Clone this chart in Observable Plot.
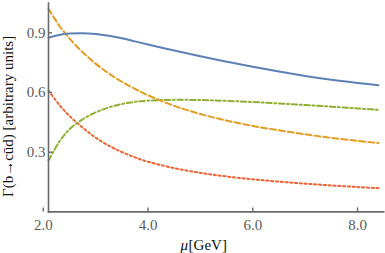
<!DOCTYPE html>
<html>
<head>
<meta charset="utf-8">
<script src="https://cdn.jsdelivr.net/npm/d3@7"></script>
<script src="https://cdn.jsdelivr.net/npm/@observablehq/plot@0.6"></script>
<style>
  html, body { margin: 0; padding: 0; background: #fff; }
</style>
</head>
<body>
<div id="chart"></div>
<script>
const mu     = [2.1, 2.3, 2.5, 2.75, 3.0, 3.25, 3.5, 3.75, 4.0, 4.5, 5.0, 5.5, 6.0, 6.5, 7.0, 7.5, 8.0, 8.4];
const blue   = [0.875, 0.889, 0.896, 0.898, 0.894, 0.885, 0.873, 0.857, 0.841, 0.811, 0.782, 0.755, 0.729, 0.705, 0.683, 0.664, 0.648, 0.637];
const orange = [1.021, 0.938, 0.872, 0.803, 0.745, 0.696, 0.654, 0.618, 0.586, 0.533, 0.492, 0.459, 0.432, 0.410, 0.390, 0.372, 0.357, 0.346];
const green  = [0.258, 0.350, 0.415, 0.465, 0.500, 0.525, 0.542, 0.553, 0.559, 0.563, 0.562, 0.558, 0.552, 0.545, 0.537, 0.529, 0.520, 0.513];
const red    = [0.610, 0.540, 0.482, 0.424, 0.373, 0.333, 0.301, 0.274, 0.252, 0.220, 0.196, 0.178, 0.164, 0.152, 0.142, 0.133, 0.125, 0.119];
const xTicks = [2.0, 4.0, 6.0, 8.0];
const yTicks = [0.3, 0.6, 0.9];
const xDomain = [2.1, 8.5];
const yDomain = [0, 1.05];
const yTitle = "Γ(b→cūd) [arbitrary units]";
const xTitleSymbol = "μ";
const xTitleUnit = "[GeV]";

const rows = (vals) => mu.map((m, i) => ({mu: m, v: vals[i]}));

const axisColor = "#6a6a6a";
const labelColor = "#5c5c5c";
const font = "'Liberation Serif', 'Times New Roman', serif";

const lineOpts = {x: "mu", y: "v", strokeWidth: 2, curve: "catmull-rom"};

const chart = Plot.plot({
  width: 385,
  height: 253,
  marginLeft: 48,
  marginRight: 1.8,
  marginTop: 2.45,
  marginBottom: 41.6,
  style: {fontFamily: font, fontSize: "15px", background: "#fff", overflow: "visible"},
  x: {domain: xDomain},
  y: {domain: yDomain},
  marks: [
    Plot.line(rows(red),    {...lineOpts, stroke: "#EB6235", strokeDasharray: "2.2,2.6"}),
    Plot.line(rows(green),  {...lineOpts, stroke: "#8FB032", strokeDasharray: "5.5,2.6,2,2.6"}),
    Plot.line(rows(orange), {...lineOpts, stroke: "#E19C24", strokeDasharray: "6,3"}),
    Plot.line(rows(blue),   {...lineOpts, stroke: "#5E81B5"}),
    Plot.frame({anchor: "left", stroke: axisColor, strokeWidth: 1.6}),
    Plot.frame({anchor: "bottom", stroke: axisColor, strokeWidth: 1.6}),
    Plot.axisY(yTicks, {anchor: "left", tickSize: -4, fill: "none", stroke: axisColor, strokeWidth: 1.4, label: null}),
    Plot.axisY(yTicks, {anchor: "left", tickSize: 0, tickPadding: 3, stroke: "none", fill: labelColor, tickFormat: d3.format(".1f"), label: null, fontSize: 15, fontFamily: font}),
    Plot.axisX(xTicks, {anchor: "bottom", tickSize: -4, fill: "none", stroke: axisColor, strokeWidth: 1.4, label: null}),
    Plot.axisX(xTicks, {anchor: "bottom", tickSize: 0, tickPadding: 7, stroke: "none", fill: labelColor, tickFormat: d3.format(".1f"), label: null, fontSize: 15, fontFamily: font}),
    Plot.text([yTitle], {text: d => d, frameAnchor: "left", rotate: -90, dx: -40.5, dy: 9, fontSize: 15, fontFamily: font, fill: "#111", lineAnchor: "middle", textAnchor: "middle"}),
    Plot.text([xTitleSymbol], {text: d => d, frameAnchor: "bottom", textAnchor: "end", dx: -28, dy: 33, fontSize: 15, fontFamily: font, fontStyle: "italic", fill: "#111", lineAnchor: "middle"}),
    Plot.text([xTitleUnit], {text: d => d, frameAnchor: "bottom", textAnchor: "start", dx: -27.5, dy: 33, fontSize: 15, fontFamily: font, fill: "#111", lineAnchor: "middle"})
  ]
});
document.getElementById("chart").appendChild(chart);
</script>
</body>
</html>
